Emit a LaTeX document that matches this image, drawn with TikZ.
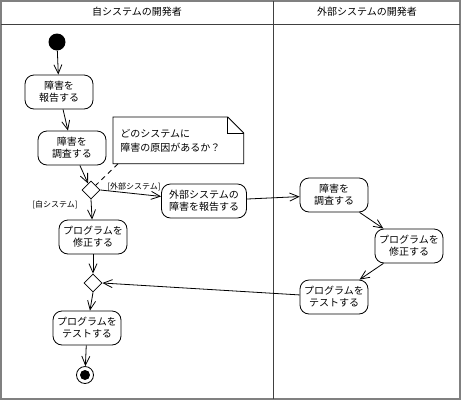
\documentclass[tikz,border=0pt]{standalone}
\usepackage{fontspec}
\setmainfont{Noto Sans CJK JP}
\usetikzlibrary{arrows.meta,shapes.geometric,calc}
\definecolor{framec}{HTML}{808080}
\definecolor{lanec}{HTML}{404040}

\begin{document}
\begin{tikzpicture}[x=1pt,y=-1pt,line width=0.8pt,
    act/.style={draw,rounded corners=9pt,minimum width=68pt,minimum height=34pt,inner sep=2pt,align=center,font=\fontsize{10}{12}\selectfont},
    dec/.style={draw,diamond,minimum width=18pt,minimum height=18pt,inner sep=0pt},
    initnode/.style={circle,fill=black,minimum size=17pt,inner sep=0pt},
    finalnode/.style={circle,draw,minimum size=17pt,inner sep=0pt,path picture={\fill (path picture bounding box.center) circle (5pt);}},
    memo/.style={anchor=north west,text width=116pt,inner xsep=7pt,minimum height=46pt,align=left,font=\fontsize{10}{14}\selectfont},
    guard/.style={inner sep=1pt,font=\fontsize{8}{9}\selectfont},
    lanehead/.style={font=\fontsize{10}{12}\selectfont},
    flow/.style={-{Straight Barb[length=9pt,width=8pt]}},
  ]
  \useasboundingbox (0,0) rectangle (461,400);
  % swimlanes
  \draw[framec,line width=2pt] (1,1) rectangle (460,399);
  \draw[lanec] (1,24) -- (460,24);
  \draw[lanec] (273,1) -- (273,399);
  \node[lanehead] (own) at (137,12) {自システムの開発者};
  \node[lanehead] (ext) at (367,12) {外部システムの開発者};

  % own system lane
  \node[initnode] (start) at (57,42) {};
  \node[act] (report) at (59,92) {障害を\\報告する};
  \node[act] (inv) at (72,148) {障害を\\調査する};
  \node[dec] (d1) at (91,190) {};
  \node[act,minimum width=85pt] (extrep) at (204,201) {外部システムの\\障害を報告する};
  \node[act] (fix) at (93,237) {プログラムを\\修正する};
  \node[dec] (m1) at (93,283) {};
  \node[act] (test) at (87,328) {プログラムを\\テストする};
  \node[finalnode] (end) at (85,375) {};

  % note
  \node[memo] (memo) at (113,117) {どのシステムに\\障害の原因があるか？};
  \draw (memo.south west) -- (memo.north west) -- ($(memo.north east)+(-16,0)$)
    -- ($(memo.north east)+(0,16)$) -- (memo.south east) -- cycle;
  \draw ($(memo.north east)+(-16,0)$) -- ($(memo.north east)+(-16,16)$) -- ($(memo.north east)+(0,16)$);
  \draw[dashed,dash pattern=on 5pt off 4pt] ($(memo.south west)+(5,0)$) -- (d1.north east);

  % external system lane
  \node[act] (inv2) at (334,195) {障害を\\調査する};
  \node[act] (fix2) at (409,246) {プログラムを\\修正する};
  \node[act] (test2) at (334,297) {プログラムを\\テストする};

  % flows
  \draw[flow] (start) -- (report);
  \draw[flow] (report) -- (inv);
  \draw[flow] (inv) -- (d1);
  \draw[flow] (d1.south) -- (fix);
  \draw[flow] (d1.east) -- (extrep);
  \draw[flow] (extrep) -- (inv2);
  \draw[flow] (inv2) -- (fix2);
  \draw[flow] (fix2) -- (test2);
  \draw[flow] (test2) -- (m1.east);
  \draw[flow] (fix) -- (m1.north);
  \draw[flow] (m1.south) -- (test);
  \draw[flow] (test) -- (end);

  \node[guard] (gext) at (134,187) {[外部システム]};
  \node[guard] (gown) at (55,205) {[自システム]};
\end{tikzpicture}
\end{document}
